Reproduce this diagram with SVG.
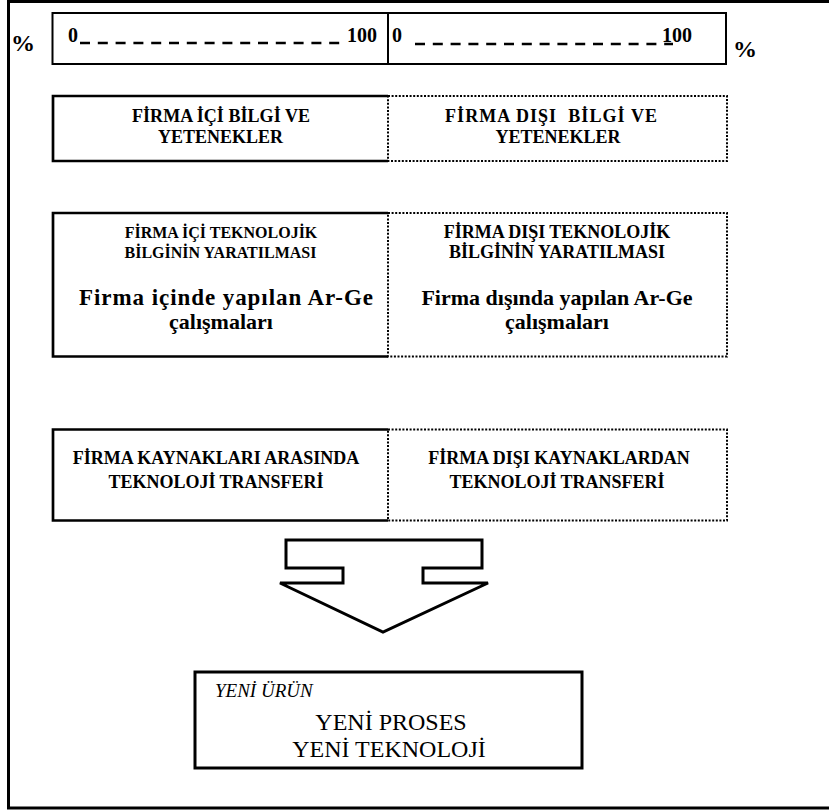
<svg xmlns="http://www.w3.org/2000/svg" width="829" height="812" viewBox="0 0 829 812">
<style>
  .t { font-family: "Liberation Serif", "Times New Roman", serif; fill: #000; }
  .b { font-weight: bold; }
  .c { text-anchor: middle; }
  .solid { fill: none; stroke: #000; stroke-width: 2.7; }
  .dot { fill: none; stroke: #000; stroke-width: 2; stroke-dasharray: 2 1.6; }
  .dash { stroke: #000; stroke-width: 2.3; stroke-dasharray: 10 7.8; }
</style>
<rect width="829" height="812" fill="#fff"/>
<rect id="frame" x="8.5" y="1.5" width="830" height="806.5" fill="none" stroke="#000" stroke-width="3"/>

<g id="scale">
  <rect x="52.5" y="13" width="673.5" height="51" fill="none" stroke="#000" stroke-width="2"/>
  <line x1="388" y1="13" x2="388" y2="64" stroke="#000" stroke-width="2"/>
  <text class="t b" x="11" y="51" font-size="24">%</text>
  <text class="t b" x="733" y="57" font-size="24">%</text>
  <text class="t b" x="68" y="42" font-size="20">0</text>
  <line class="dash" x1="80" y1="43" x2="347" y2="43"/>
  <text class="t b" x="347" y="42" font-size="20">100</text>
  <text class="t b" x="392" y="42" font-size="20">0</text>
  <line class="dash" x1="415" y1="44" x2="673" y2="44"/>
  <text class="t b" x="662" y="42" font-size="20">100</text>
</g>

<g id="ic-bilgi">
  <path class="solid" d="M388,96 H53 V161 H388"/>
  <text class="t b c" x="221" y="121.5" font-size="18" textLength="178">FİRMA İÇİ BİLGİ VE</text>
  <text class="t b c" x="220.5" y="142.5" font-size="18">YETENEKLER</text>
</g>
<g id="dis-bilgi">
  <rect class="dot" x="388" y="96" width="339" height="65"/>
  <text class="t b c" x="551" y="121.5" font-size="18" textLength="212" xml:space="preserve">FİRMA DIŞI  BİLGİ VE</text>
  <text class="t b c" x="558" y="142.5" font-size="18">YETENEKLER</text>
</g>

<g id="ic-teknoloji">
  <path class="solid" d="M388,213 H53 V356.5 H388"/>
  <text class="t b c" x="221" y="238" font-size="16">FİRMA İÇİ TEKNOLOJİK</text>
  <text class="t b c" x="220.5" y="258" font-size="16">BİLGİNİN YARATILMASI</text>
  <text class="t b c" x="226" y="305" font-size="23" textLength="294">Firma içinde yapılan Ar-Ge</text>
  <text class="t b c" x="221" y="329" font-size="22">çalışmaları</text>
</g>
<g id="dis-teknoloji">
  <rect class="dot" x="388" y="213" width="339" height="143.5"/>
  <text class="t b c" x="557" y="238" font-size="18">FİRMA DIŞI TEKNOLOJİK</text>
  <text class="t b c" x="557" y="258" font-size="18">BİLGİNİN YARATILMASI</text>
  <text class="t b c" x="557" y="305" font-size="22">Firma dışında yapılan Ar-Ge</text>
  <text class="t b c" x="557" y="329" font-size="22">çalışmaları</text>
</g>

<g id="ic-transfer">
  <path class="solid" d="M388,429.5 H53 V520.5 H388"/>
  <text class="t b c" x="216" y="464" font-size="18">FİRMA KAYNAKLARI ARASINDA</text>
  <text class="t b c" x="216" y="488" font-size="18">TEKNOLOJİ TRANSFERİ</text>
</g>
<g id="dis-transfer">
  <rect class="dot" x="388" y="429.5" width="339" height="91"/>
  <text class="t b c" x="559" y="464" font-size="18">FİRMA DIŞI KAYNAKLARDAN</text>
  <text class="t b c" x="557" y="488" font-size="18">TEKNOLOJİ TRANSFERİ</text>
</g>

<g id="connectors">
  <path d="M286,540 H482 V568 H423 V583 H488 L383,632 L280,583 H343 V568 H286 Z" fill="#fff" stroke="#000" stroke-width="3" stroke-linejoin="miter"/>
</g>

<g id="sonuc">
  <rect x="195" y="672" width="387" height="96" fill="#fff" stroke="#000" stroke-width="3"/>
  <text class="t" x="215" y="697" font-size="19" font-style="italic">YENİ ÜRÜN</text>
  <text class="t c" x="391" y="730" font-size="24">YENİ PROSES</text>
  <text class="t c" x="389" y="757" font-size="24">YENİ TEKNOLOJİ</text>
</g>
</svg>
